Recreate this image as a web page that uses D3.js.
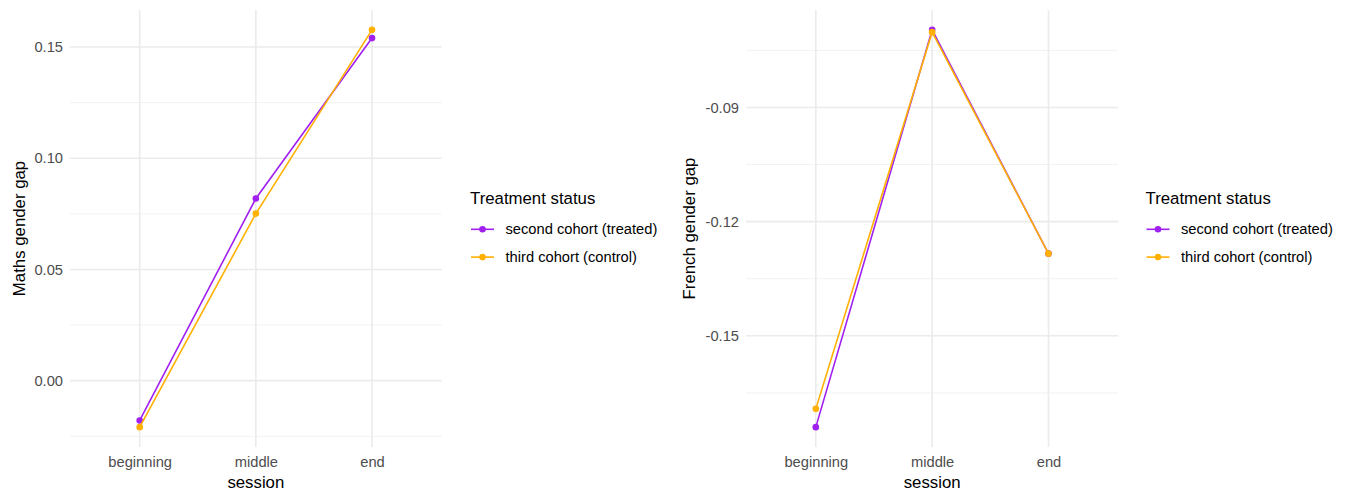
<!DOCTYPE html>
<html><head><meta charset="utf-8">
<script src="https://cdn.jsdelivr.net/npm/d3@7"></script>
<style>body{margin:0;background:#fff;font-family:"Liberation Sans",Arial,sans-serif;}</style>
</head><body>
<svg id="c" width="1351" height="495"></svg>
<script>
const sessions = ["beginning","middle","end"];
const seriesNames = ["second cohort (treated)","third cohort (control)"];
const seriesColors = ["#a020f0","#ffb000"];
const mathsTreated = [-0.0179, 0.0819, 0.1540];
const mathsControl = [-0.0209, 0.0751, 0.1577];
const frenchTreated = [-0.1740, -0.0696, -0.1284];
const frenchControl = [-0.1692, -0.0702, -0.1284];
const mathsTicks = [0.00, 0.05, 0.10, 0.15];
const frenchTicks = [-0.15, -0.12, -0.09];

const svg = d3.select("#c");
const FONT = "Liberation Sans, Arial, sans-serif";
const fmt2 = v => d3.format(".2f")(v).replace("\u2212","-");

function panel(opt){
  const {x0,x1,y0,y1,series,ticks,minor,ytitle,ytitleX,legX} = opt;
  const g = svg.append("g").style("font-family",FONT);
  const all = series.flat();
  const ext = d3.extent(all);
  const pad = (ext[1]-ext[0])*0.05;
  const y = d3.scaleLinear().domain([ext[0]-pad, ext[1]+pad]).range([y1,y0]);
  const unit = (x1-x0)/3.2;
  const x = d3.scalePoint().domain(sessions).range([x0+0.6*unit, x1-0.6*unit]);
  // grid
  g.selectAll(".mn").data(minor).join("line")
    .attr("x1",x0).attr("x2",x1).attr("y1",d=>y(d)).attr("y2",d=>y(d))
    .attr("stroke","#f2f2f2").attr("stroke-width",1);
  g.selectAll(".mj").data(ticks).join("line")
    .attr("x1",x0).attr("x2",x1).attr("y1",d=>y(d)).attr("y2",d=>y(d))
    .attr("stroke","#ebebeb").attr("stroke-width",1.6);
  g.selectAll(".vx").data(sessions).join("line")
    .attr("x1",d=>x(d)).attr("x2",d=>x(d)).attr("y1",y0).attr("y2",y1)
    .attr("stroke","#ebebeb").attr("stroke-width",1.6);
  // y axis
  const ya = d3.axisLeft(y).tickValues(ticks).tickFormat(fmt2).tickSize(0).tickPadding(0);
  const yg = g.append("g").attr("transform",`translate(${x0-7},0)`).call(ya);
  yg.select(".domain").remove();
  yg.selectAll("text").attr("fill","#4d4d4d").style("font-size","14.7px").style("font-family",FONT);
  // x axis
  const xa = d3.axisBottom(x).tickSize(0).tickPadding(0);
  const xg = g.append("g").attr("transform",`translate(0,${y1+10})`).call(xa);
  xg.select(".domain").remove();
  xg.selectAll("text").attr("fill","#4d4d4d").style("font-size","14.7px").style("font-family",FONT);
  g.append("text").attr("x",(x0+x1)/2).attr("y",488).attr("text-anchor","middle")
    .style("font-size","16.8px").attr("fill","#000").text("session");
  g.append("text").attr("transform",`translate(${ytitleX},${(y0+y1)/2}) rotate(-90)`)
    .attr("text-anchor","middle").style("font-size","16.8px").attr("fill","#000").text(ytitle);
  // lines
  const line = d3.line().x((d,i)=>x(sessions[i])).y(d=>y(d));
  series.forEach((s,k)=>{
    g.append("path").datum(s).attr("d",line).attr("fill","none")
      .attr("stroke",seriesColors[k]).attr("stroke-width",1.6);
    g.selectAll(".p"+k).data(s).join("circle")
      .attr("cx",(d,i)=>x(sessions[i])).attr("cy",d=>y(d)).attr("r",3.3)
      .attr("fill",seriesColors[k]);
  });
  // legend
  const lg = g.append("g");
  lg.append("text").attr("x",legX).attr("y",204).style("font-size","16.8px").attr("fill","#000").text("Treatment status");
  seriesNames.forEach((n,k)=>{
    const yy = 229.3 + k*27.8;
    lg.append("line").attr("x1",legX+1).attr("x2",legX+24).attr("y1",yy).attr("y2",yy)
      .attr("stroke",seriesColors[k]).attr("stroke-width",1.6);
    lg.append("circle").attr("cx",legX+12.5).attr("cy",yy).attr("r",3.3).attr("fill",seriesColors[k]);
    lg.append("text").attr("x",legX+35.5).attr("y",yy+5).style("font-size","14.7px").attr("fill","#000").text(n);
  });
}

panel({x0:70,x1:441.7,y0:10,y1:447,series:[mathsTreated,mathsControl],
  ticks:mathsTicks,minor:[-0.025,0.025,0.075,0.125],
  ytitle:"Maths gender gap",ytitleX:24.5,legX:470});
panel({x0:746,x1:1118.3,y0:10,y1:447,series:[frenchTreated,frenchControl],
  ticks:frenchTicks,minor:[-0.165,-0.135,-0.105,-0.075],
  ytitle:"French gender gap",ytitleX:695,legX:1145.5});
</script>
</body></html>
